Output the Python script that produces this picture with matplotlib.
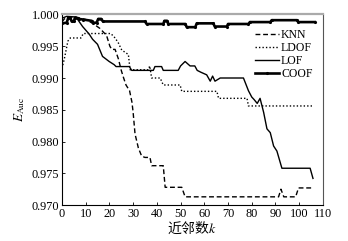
import matplotlib
matplotlib.use("Agg")
import matplotlib.pyplot as plt

plt.rcParams['font.family'] = ['Liberation Serif', 'DejaVu Serif']
plt.rcParams['mathtext.fontset'] = 'stix'

# KNN (dashed)
knn_k = [0, 1, 3, 6, 8, 10, 13, 16, 18.8, 20.2, 21, 22.4, 23.8, 25, 26, 27, 28.5,
         29.5, 30, 30.8, 32.2, 33.6, 35, 37.1, 37.8, 42.7, 43.5, 50.5, 51.9, 91.3,
         92.3, 93.5, 98.5, 99.7, 105.5]
knn_v = [0.9988, 0.9993, 0.9996, 0.9996, 0.9994, 0.9992, 0.9986, 0.9978, 0.9967,
         0.9950, 0.9945, 0.9945, 0.9930, 0.9912, 0.9900, 0.9889, 0.9880, 0.9862,
         0.9846, 0.9812, 0.9790, 0.9777, 0.9775, 0.9775, 0.9762, 0.9762, 0.9728,
         0.9728, 0.9713, 0.9713, 0.9725, 0.9713, 0.9713, 0.9727, 0.9727]

# LDOF (dotted)
ldof_k = [0, 1, 2.5, 3.5, 8, 9, 20.6, 22.4, 23.8, 25.2, 28, 28.7, 36.4, 37, 37.8,
          41.4, 42.7, 49.8, 50.5, 65.3, 66, 78, 78.6, 105.4]
ldof_v = [0.9915, 0.9930, 0.9958, 0.9963, 0.9963, 0.9970, 0.9970, 0.9963, 0.9955,
          0.9944, 0.9937, 0.9913, 0.9913, 0.9919, 0.9900, 0.9900, 0.9889, 0.9889,
          0.9879, 0.9879, 0.9868, 0.9868, 0.9856, 0.9856]

# LOF (solid)
lof_k = [0, 2, 5.9, 8.7, 11.5, 12.9, 15, 17.1, 19.9, 22, 22.8, 28.4, 29.4, 38.5,
         39.2, 42, 42.7, 49, 50, 51.9, 54, 56, 57, 58.6, 61, 62.5, 63.5, 64.5,
         66.7, 76.5, 78.6, 80, 81, 82.3, 83.5, 85, 86.4, 87.8, 89.2, 90.6, 92.7,
         104.6, 105.8]
lof_v = [0.9994, 0.9997, 0.9996, 0.9981, 0.9969, 0.9961, 0.9953, 0.9934, 0.9926,
         0.9921, 0.9918, 0.9918, 0.9912, 0.9912, 0.9918, 0.9918, 0.9912, 0.9912,
         0.9919, 0.9926, 0.9919, 0.9919, 0.9912, 0.9909, 0.9905, 0.9895, 0.9903,
         0.9895, 0.9900, 0.9900, 0.9880, 0.9870, 0.9866, 0.9860, 0.9868, 0.9846,
         0.9820, 0.9814, 0.9793, 0.9785, 0.9758, 0.9758, 0.9742]

# COOF (thick, dotted markers)
coof_k = [0, 2, 2.7, 3.5, 4.1, 5, 5.5, 7, 9, 12.5, 13, 14.6, 15.3, 16.5, 17.3, 35,
          35.7, 42.7, 43.2, 44.3, 44.8, 52, 52.6, 56.2, 56.8, 63.8, 64.4, 69.5, 70,
          78.6, 79.2, 87.8, 88.4, 99, 99.6, 106.5]
coof_v = [0.9986, 0.9987, 0.9995, 0.9995, 0.9989, 0.9989, 0.9995, 0.9993, 0.9992,
          0.9990, 0.9987, 0.9987, 0.9993, 0.9993, 0.9989, 0.9989, 0.9985, 0.9985,
          0.9990, 0.9990, 0.9985, 0.9985, 0.9980, 0.9980, 0.9986, 0.9986, 0.9981,
          0.9981, 0.9985, 0.9985, 0.9988, 0.9988, 0.9991, 0.9991, 0.9988, 0.9988]

xticks = [0, 10, 20, 30, 40, 50, 60, 70, 80, 90, 100, 110]
yticks = [0.970, 0.975, 0.980, 0.985, 0.990, 0.995, 1.000]

fig = plt.figure(figsize=(3.48, 2.41), dpi=100)
ax = fig.add_axes([0.178, 0.149, 0.75, 0.791])

ax.plot(knn_k, knn_v, color='black', lw=1.0, linestyle=(0, (3.5, 2)), label='KNN')
ax.plot(ldof_k, ldof_v, color='black', lw=1.0, linestyle=(0, (1, 1.5)), label='LDOF')
ax.plot(lof_k, lof_v, color='black', lw=1.0, label='LOF')
ax.plot(coof_k, coof_v, color='black', lw=1.9, marker='.', markersize=2.5, label='COOF')

ax.set_xlim(0, 110)
ax.set_ylim(0.970, 1.000)
ax.set_xticks(xticks)
ax.set_yticks(yticks)
ax.set_yticklabels(['%.3f' % v for v in yticks])
ax.tick_params(direction='in', length=2.5, width=0.6, labelsize=8.8, pad=2)

for s in ['left', 'bottom', 'right']:
    ax.spines[s].set_linewidth(0.8)
ax.spines['right'].set_color('#555555')
ax.spines['top'].set_color('#aaaaaa')
ax.spines['top'].set_linewidth(1.6)

ax.set_ylabel(r'$E_{\rm Auc}$', fontsize=9.5, labelpad=3)
ax.set_xlabel(r'近邻数$k$', fontsize=10, labelpad=0,
              family=['Noto Sans CJK SC', 'DejaVu Sans'])

ax.legend(loc='upper left', bbox_to_anchor=(0.74, 0.925), frameon=False,
          fontsize=8.5, handlelength=2.0, handletextpad=0.2, labelspacing=0.1,
          borderpad=0, borderaxespad=0)

fig.savefig('out.png', dpi=100)
